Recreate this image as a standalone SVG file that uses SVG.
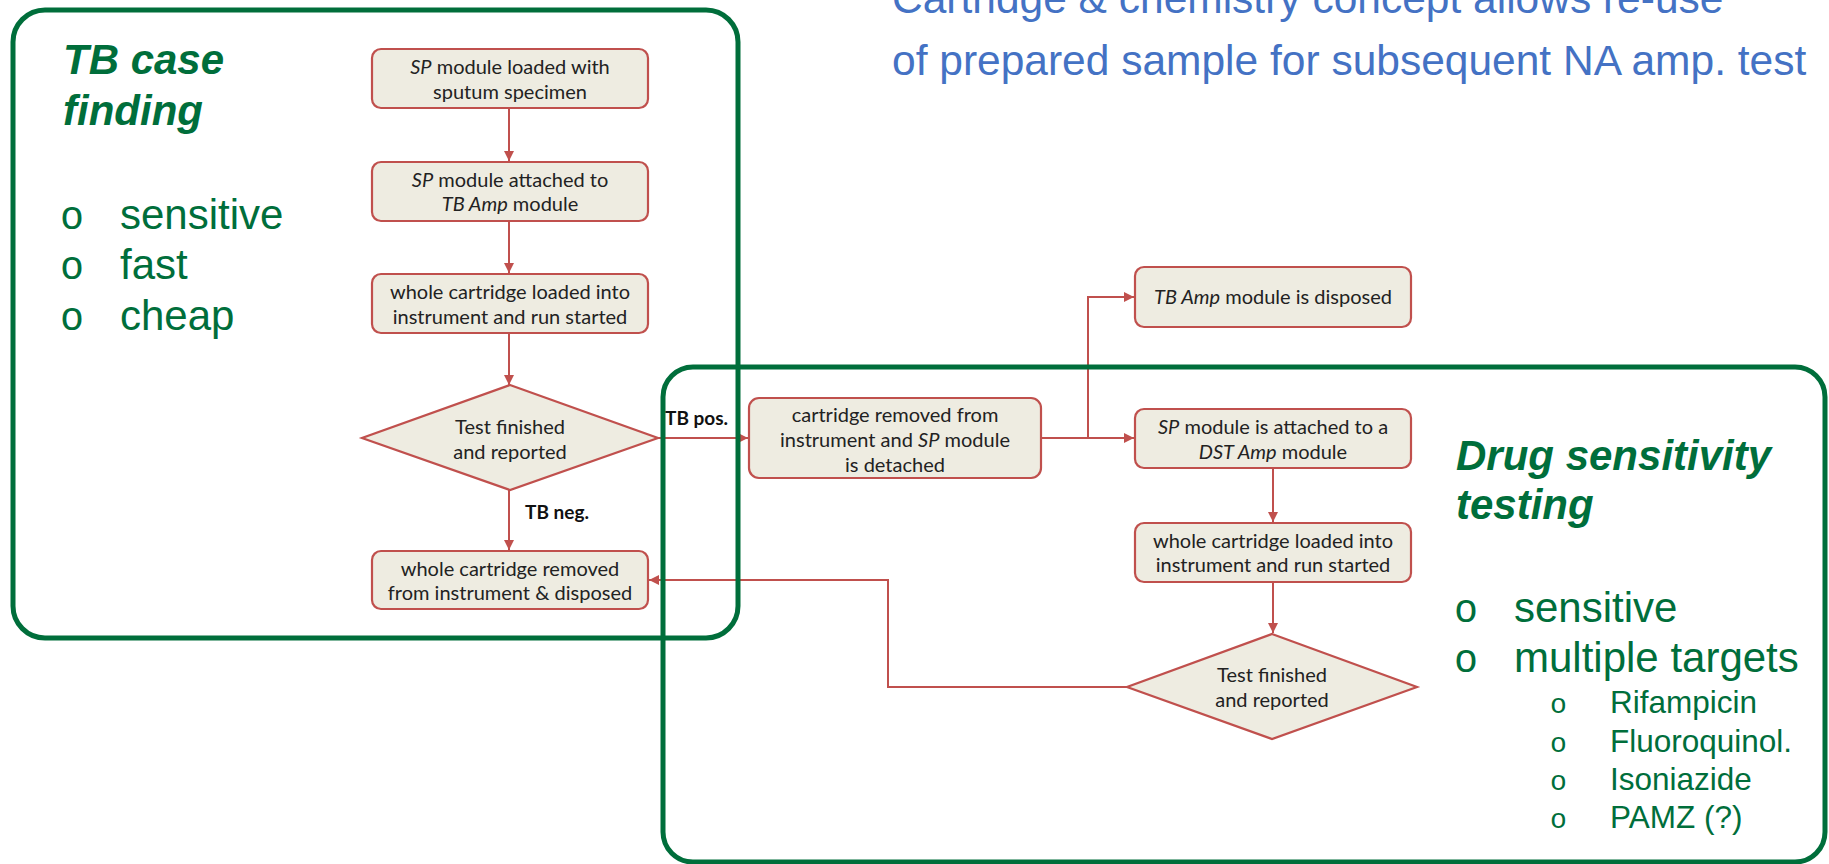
<svg xmlns="http://www.w3.org/2000/svg" width="1829" height="864" viewBox="0 0 1829 864">
<defs>
<marker id="ah" viewBox="0 0 10 10" refX="10" refY="5" markerWidth="10" markerHeight="10" markerUnits="userSpaceOnUse" orient="auto">
<path d="M0,0 L10,5 L0,10 z" fill="#C0504D"/>
</marker>
<style>
.box{fill:#EEECE1;stroke:#C0504D;stroke-width:2.2}
.bt{font-family:Lato,"Carlito","Liberation Sans",sans-serif;font-size:20px;fill:#222;text-anchor:middle}
.it{font-style:italic}
.lbl{font-family:Lato,"Liberation Sans",sans-serif;font-size:19px;font-weight:bold;fill:#111}
.con{fill:none;stroke:#C0504D;stroke-width:2;marker-end:url(#ah)}
.grp{fill:none;stroke:#006E3B;stroke-width:5}
.title{font-family:"Liberation Sans",Arial,sans-serif;font-size:42px;font-weight:bold;font-style:italic;fill:#006E3B}
.big{font-family:"Liberation Sans",Arial,sans-serif;font-size:42px;fill:#006E3B}
.bul{font-family:"Liberation Mono","Courier New",monospace;font-size:40px;fill:#006E3B}
.sml{font-family:"Liberation Sans",Arial,sans-serif;font-size:31.5px;fill:#006E3B}
.sbul{font-family:"Liberation Mono","Courier New",monospace;font-size:28px;fill:#006E3B}
.blue{font-family:"Liberation Sans",Arial,sans-serif;font-size:42.5px;fill:#4472C4}
</style>
</defs>
<rect width="1829" height="864" fill="#fff"/>

<g id="header">
<text class="blue" x="892" y="13">Cartridge &amp; chemistry concept allows re-use</text>
<text class="blue" x="892" y="75">of prepared sample for subsequent NA amp. test</text>
</g>

<g id="connectors">
<path class="con" d="M509,108 V161"/>
<path class="con" d="M509,221 V273"/>
<path class="con" d="M509,333 V385"/>
<path class="con" d="M657,438 H748"/>
<path class="con" d="M509,490 V550"/>
<path class="con" d="M1041,438 H1134"/>
<path class="con" d="M1088,438 V297 H1134"/>
<path class="con" d="M1273,468 V522"/>
<path class="con" d="M1273,582 V633"/>
<path class="con" d="M1127,687 H888 V580 H649"/>
<text class="lbl" x="665" y="425">TB pos.</text>
<text class="lbl" x="525" y="519">TB neg.</text>
</g>

<g id="n1"><rect class="box" x="372" y="49" width="276" height="59" rx="9"/>
<text class="bt" x="510" y="74"><tspan class="it">SP</tspan> module loaded with</text>
<text class="bt" x="510" y="99">sputum specimen</text></g>

<g id="n2"><rect class="box" x="372" y="162" width="276" height="59" rx="9"/>
<text class="bt" x="510" y="187"><tspan class="it">SP</tspan> module attached to</text>
<text class="bt" x="510" y="211"><tspan class="it">TB Amp</tspan> module</text></g>

<g id="n3"><rect class="box" x="372" y="274" width="276" height="59" rx="9"/>
<text class="bt" x="510" y="299">whole cartridge loaded into</text>
<text class="bt" x="510" y="324">instrument and run started</text></g>

<g id="d1"><polygon class="box" points="510,385 658,438 510,490 362,438"/>
<text class="bt" x="510" y="434">Test finished</text>
<text class="bt" x="510" y="459">and reported</text></g>

<g id="n4"><rect class="box" x="749" y="398" width="292" height="80" rx="10"/>
<text class="bt" x="895" y="422">cartridge removed from</text>
<text class="bt" x="895" y="447">instrument and <tspan class="it">SP</tspan> module</text>
<text class="bt" x="895" y="472">is detached</text></g>

<g id="n5"><rect class="box" x="372" y="551" width="276" height="58" rx="9"/>
<text class="bt" x="510" y="576">whole cartridge removed</text>
<text class="bt" x="510" y="600">from instrument &amp; disposed</text></g>

<g id="n6"><rect class="box" x="1135" y="267" width="276" height="60" rx="9"/>
<text class="bt" x="1273" y="304"><tspan class="it">TB Amp</tspan> module is disposed</text></g>

<g id="n7"><rect class="box" x="1135" y="409" width="276" height="59" rx="9"/>
<text class="bt" x="1273" y="434"><tspan class="it">SP</tspan> module is attached to a</text>
<text class="bt" x="1273" y="459"><tspan class="it">DST Amp</tspan> module</text></g>

<g id="n8"><rect class="box" x="1135" y="523" width="276" height="59" rx="9"/>
<text class="bt" x="1273" y="548">whole cartridge loaded into</text>
<text class="bt" x="1273" y="572">instrument and run started</text></g>

<g id="d2"><polygon class="box" points="1272,634 1417,687 1272,739 1127,687"/>
<text class="bt" x="1272" y="682">Test finished</text>
<text class="bt" x="1272" y="707">and reported</text></g>

<g id="caseFinding">
<rect class="grp" x="13" y="10" width="725" height="628" rx="32"/>
<text class="title" x="63" y="74">TB case</text>
<text class="title" x="63" y="125">finding</text>
<text class="bul" x="60" y="229">o</text><text class="big" x="120" y="229">sensitive</text>
<text class="bul" x="60" y="279">o</text><text class="big" x="120" y="279">fast</text>
<text class="bul" x="60" y="330">o</text><text class="big" x="120" y="330">cheap</text>
</g>

<g id="dst">
<rect class="grp" x="663" y="367" width="1162" height="495" rx="30"/>
<text class="title" x="1456" y="470">Drug sensitivity</text>
<text class="title" x="1456" y="519">testing</text>
<text class="bul" x="1454" y="622">o</text><text class="big" x="1514" y="622">sensitive</text>
<text class="bul" x="1454" y="672">o</text><text class="big" x="1514" y="672">multiple targets</text>
<text class="sbul" x="1550" y="713">o</text><text class="sml" x="1610" y="713">Rifampicin</text>
<text class="sbul" x="1550" y="752">o</text><text class="sml" x="1610" y="752">Fluoroquinol.</text>
<text class="sbul" x="1550" y="790">o</text><text class="sml" x="1610" y="790">Isoniazide</text>
<text class="sbul" x="1550" y="828">o</text><text class="sml" x="1610" y="828">PAMZ (?)</text>
</g>
</svg>
